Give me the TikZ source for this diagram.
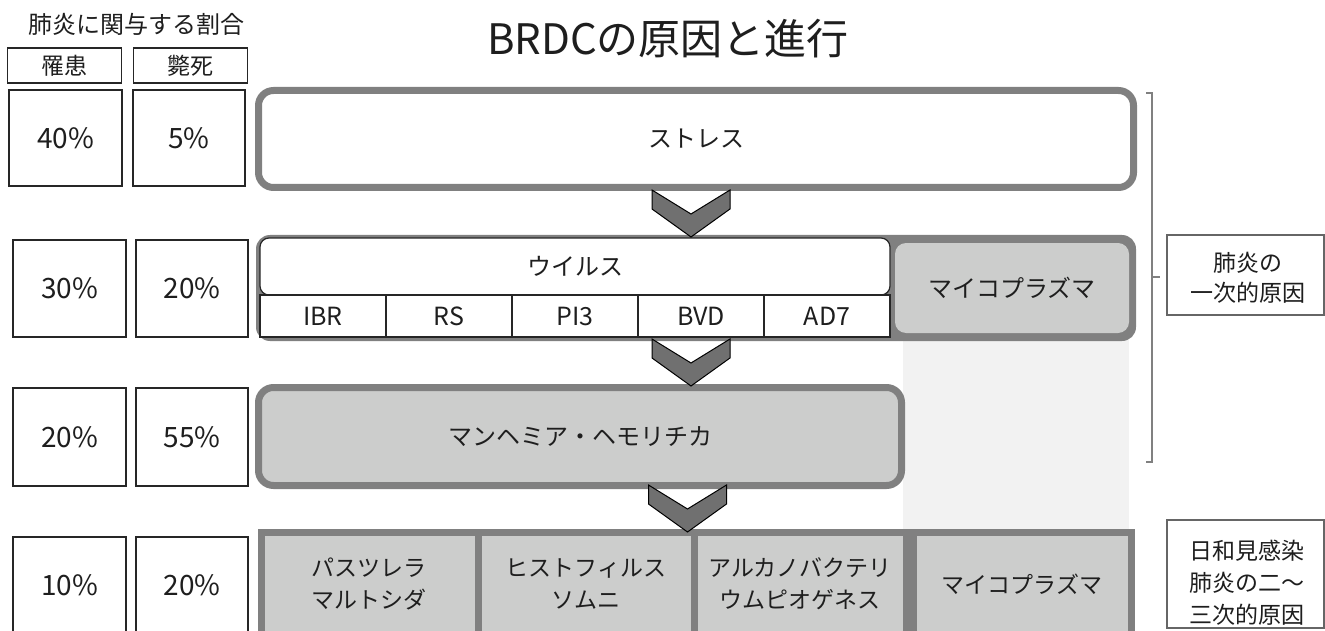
\documentclass[tikz,border=0pt]{standalone}
\usepackage{fontspec}
\usetikzlibrary{calc}
\setmainfont{Noto Sans CJK JP}
\definecolor{gbord}{RGB}{128,128,128}
\definecolor{glight}{RGB}{204,205,204}
\definecolor{gband}{RGB}{242,242,242}
\definecolor{gchev}{RGB}{112,112,112}
\definecolor{txt}{RGB}{30,30,30}
\newcommand{\fsz}[1]{\fontsize{#1}{#1}\selectfont}
\tikzset{
  pbox/.style={draw=black!85, line width=1.3pt, fill=white, text=txt, inner sep=0pt, font=\fsz{28}},
  hbox/.style={draw=black!85, line width=1.3pt, fill=white, text=txt, inner sep=0pt, font=\fsz{23}},
  mainbox/.style={draw=gbord, line width=7pt, rounded corners=15pt, text=txt, inner sep=0pt, font=\fsz{24}},
  vcell/.style={draw=black!85, line width=1.2pt, fill=white, text=txt, inner sep=0pt, font=\fsz{25}},
  bcell/.style={draw=gbord, line width=7pt, fill=glight, text=txt, inner sep=0pt, font=\fsz{23}, align=center},
  notebox/.style={draw=black!60, line width=1.2pt, fill=white, text=txt, inner sep=0pt, font=\fsz{23}, align=center},
  chev/.style={fill=gchev, draw=black, line width=1pt, line join=miter},
  brace/.style={draw=gbord, line width=1.4pt}
}
\begin{document}
\begin{tikzpicture}[x=1pt,y=-1pt]
\clip (0,0) rectangle (1325,631);
\fill[white] (0,0) rectangle (1325,631);

% titles
\node[text=txt, font=\fsz{42}, inner sep=0pt] (title) at (668,39) {BRDCの原因と進行};
\node[text=txt, font=\fsz{24}, inner sep=0pt] (ratio) at (136,24) {肺炎に関与する割合};

% left header boxes
\node[hbox, minimum width=114, minimum height=35] (hmorb) at (64.5,65.5) {罹患};
\node[hbox, minimum width=114, minimum height=35] (hmort) at (190.5,65.5) {斃死};

% left percentage boxes
\node[pbox, minimum width=113, minimum height=96] (p1a) at (65.5,138) {40\%};
\node[pbox, minimum width=112, minimum height=96] (p1b) at (189,138) {5\%};
\node[pbox, minimum width=113, minimum height=97] (p2a) at (69.5,288.5) {30\%};
\node[pbox, minimum width=112, minimum height=97] (p2b) at (192,288.5) {20\%};
\node[pbox, minimum width=113, minimum height=98] (p3a) at (69.5,437) {20\%};
\node[pbox, minimum width=112, minimum height=98] (p3b) at (192,437) {55\%};
\node[pbox, minimum width=113, minimum height=110] (p4a) at (69.5,592) {};
\node[pbox, minimum width=112, minimum height=110] (p4b) at (192,592) {};
\node[text=txt, font=\fsz{28}, inner sep=0pt] (p4at) at (69.5,585) {10\%};
\node[text=txt, font=\fsz{28}, inner sep=0pt] (p4bt) at (192,585) {20\%};

% light band behind
\fill[gband] (903,340) rectangle (1129,530);

% stress box
\node[mainbox, fill=white, minimum width=875, minimum height=97] (stress) at (696,139) {ストレス};

% virus container
\node[fill=gbord, rounded corners=14pt, minimum width=880, minimum height=106, inner sep=0pt] (vcont) at (696,288) {};
\node[fill=glight, rounded corners=11pt, minimum width=234, minimum height=90, inner sep=0pt, text=txt, font=\fsz{24}] (myco1) at (1012,288) {マイコプラズマ};
\node[vcell, rounded corners=9pt, minimum width=630, minimum height=57, font=\fsz{24}] (virus) at (575,266.5) {ウイルス};
\node[vcell, minimum width=126, minimum height=42] (ibr) at (323,316) {IBR};
\node[vcell, minimum width=126, minimum height=42] (rs) at (449,316) {RS};
\node[vcell, minimum width=126, minimum height=42] (pi3) at (575,316) {PI3};
\node[vcell, minimum width=126, minimum height=42] (bvd) at (701,316) {BVD};
\node[vcell, minimum width=126, minimum height=42] (ad7) at (827,316) {AD7};

% mannheimia
\node[mainbox, fill=glight, minimum width=643, minimum height=98] (mann) at (580,436.5) {マンヘミア・ヘモリチカ};

% bottom row
\node[bcell, minimum width=216.5, minimum height=112] (b1) at (369.75,588.5) {};
\node[bcell, minimum width=216, minimum height=112] (b2) at (586,588.5) {};
\node[bcell, minimum width=212.5, minimum height=112] (b3) at (800.25,588.5) {};
\node[bcell, minimum width=218, minimum height=112] (b4) at (1022.5,588.5) {};
\node[text=txt, font=\fsz{23}, align=center, inner sep=0pt] (b1t) at (369,583.5) {パスツレラ\\[9pt]マルトシダ};
\node[text=txt, font=\fsz{23}, align=center, inner sep=0pt] (b2t) at (586,583.5) {ヒストフィルス\\[9pt]ソムニ};
\node[text=txt, font=\fsz{23}, align=center, inner sep=0pt] (b3t) at (800,583.5) {アルカノバクテリ\\[9pt]ウムピオゲネス};
\node[text=txt, font=\fsz{23}, inner sep=0pt] (b4t) at (1022,584) {マイコプラズマ};

% chevrons
\coordinate (ch1) at (691,190);
\coordinate (ch2) at (691,339);
\coordinate (ch3) at (687.5,485);
\foreach \c in {ch1,ch2,ch3}{
  \draw[chev] ($(\c)+(-39,0)$) -- ++(0,19) -- ++(39,28) -- ++(39,-28) -- ++(0,-19) -- ++(-39,24) -- cycle;
}

% bracket
\coordinate (brt) at (1152,93);
\coordinate (brb) at (1152,462);
\coordinate (brm) at (1152,277);
\draw[brace] ($(brt)+(-6,0)$) -- (brt) -- (brb) -- ($(brb)+(-6,0)$);
\draw[brace] (brm) -- ++(8,0);

% note boxes
\node[notebox, minimum width=157, minimum height=80] (n1) at (1245.5,275) {};
\node[text=txt, font=\fsz{23}, align=center, inner sep=0pt] (n1t) at (1248,278) {肺炎の\\[7pt]一次的原因};
\node[notebox, minimum width=157, minimum height=108] (n2) at (1245.5,574) {};
\node[text=txt, font=\fsz{23}, align=center, inner sep=0pt] (n2t) at (1247,583) {日和見感染\\[9pt]肺炎の二〜\\[9pt]三次的原因};
\end{tikzpicture}
\end{document}
